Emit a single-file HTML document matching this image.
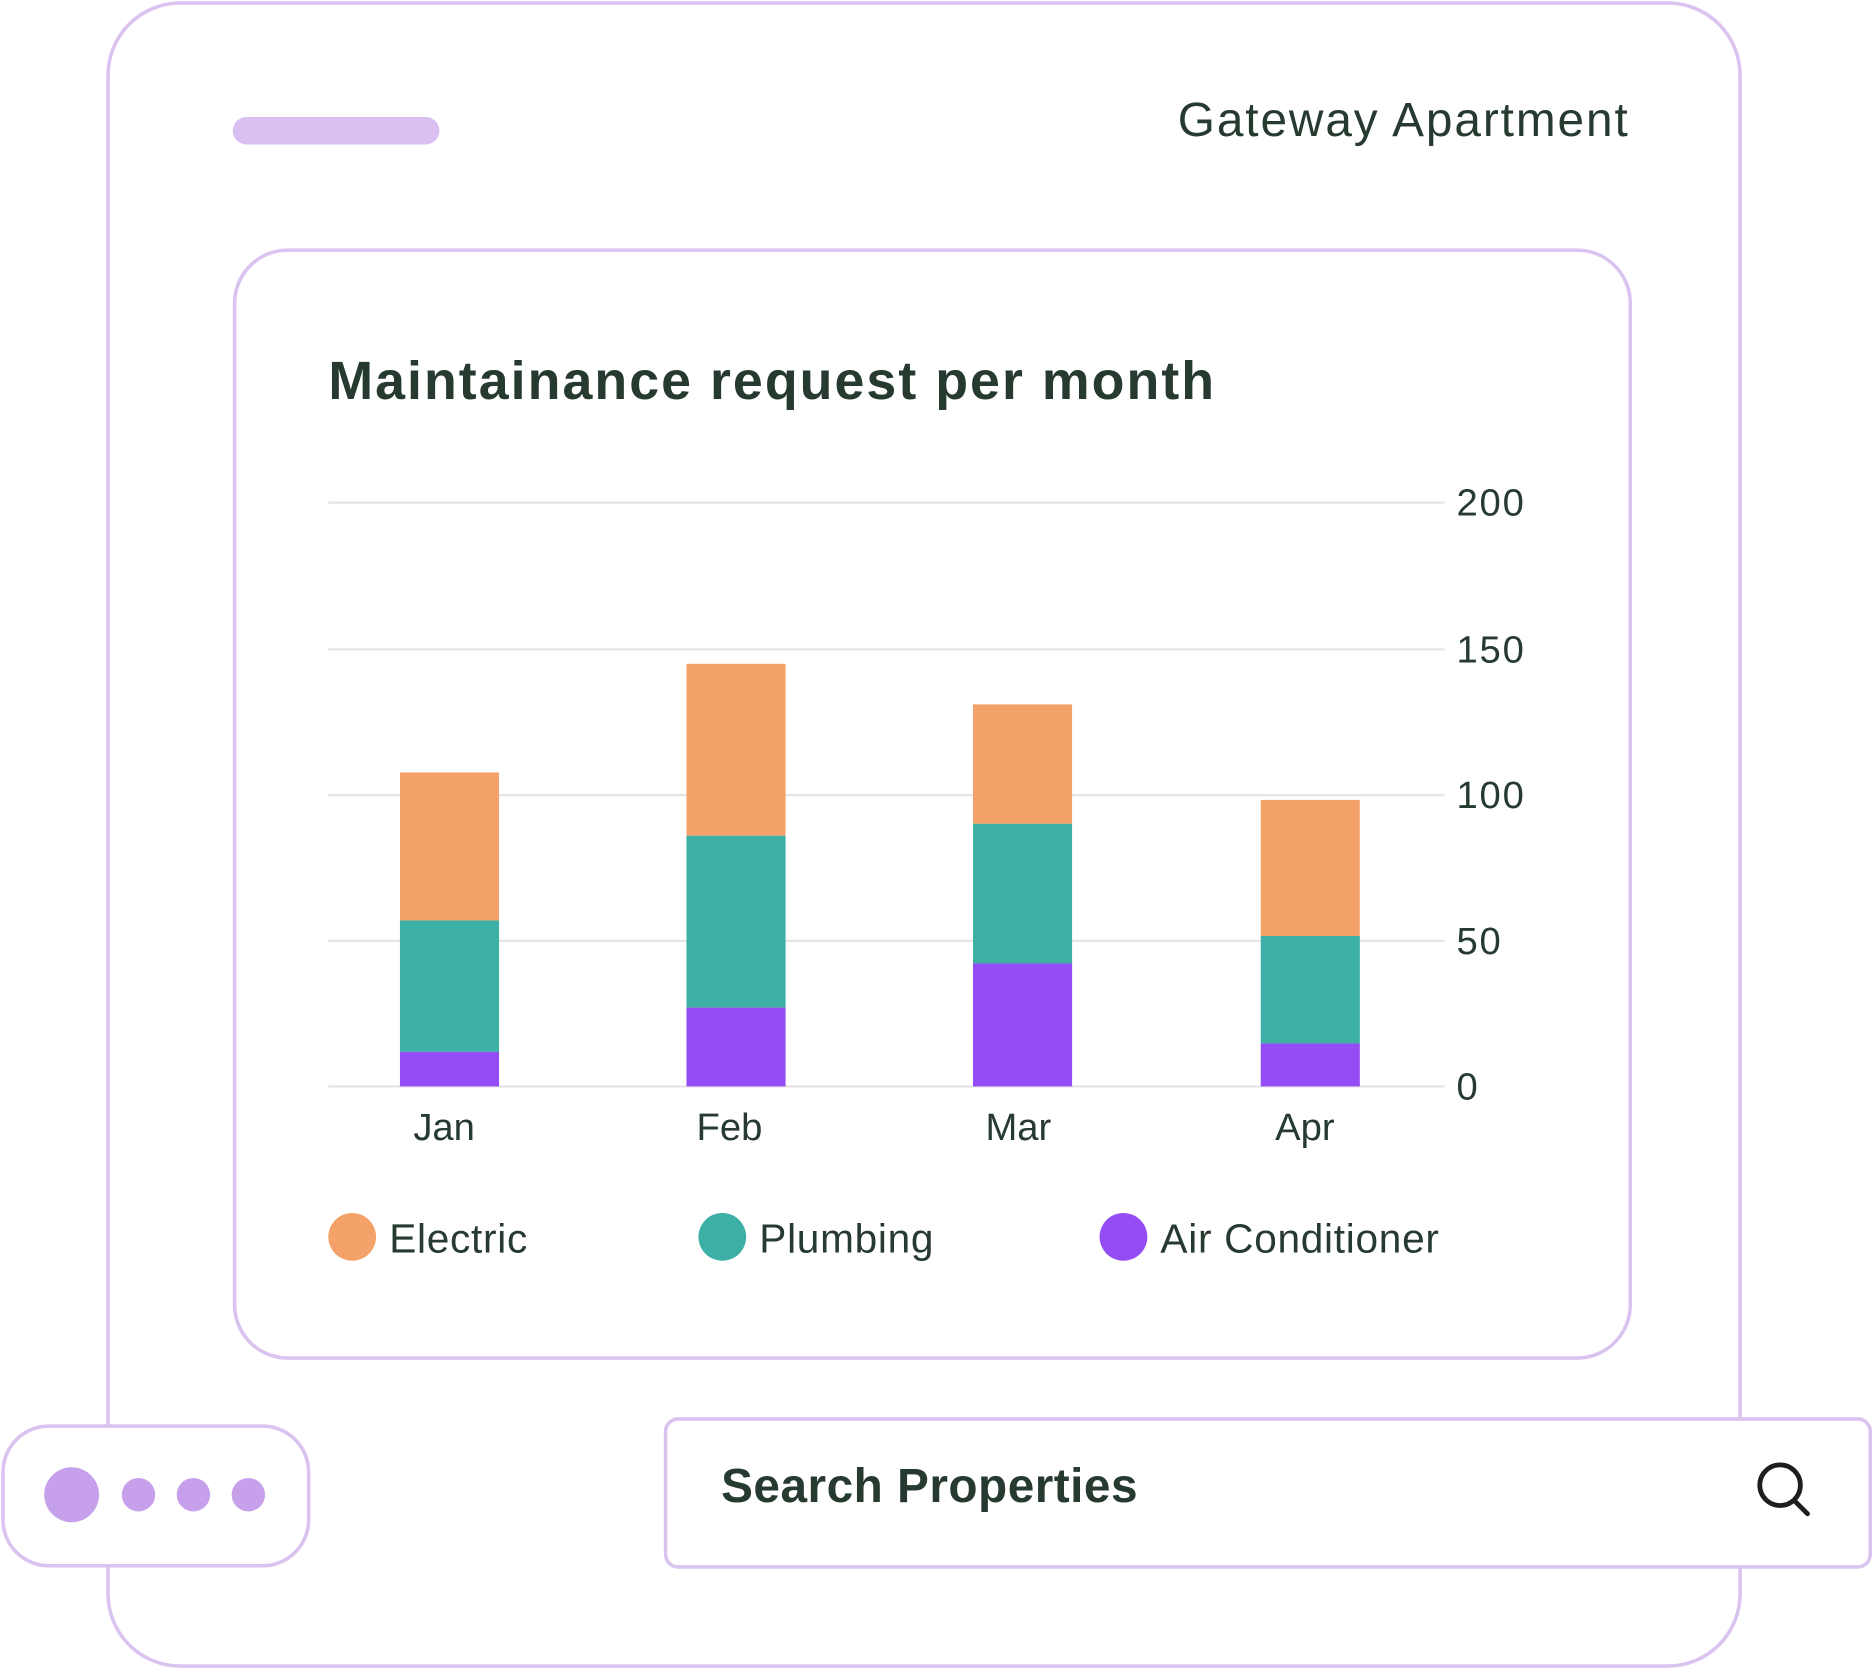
<!DOCTYPE html>
<html><head><meta charset="utf-8"><style>
html,body{margin:0;padding:0;background:#fff;}
body{width:1872px;height:1668px;overflow:hidden;position:relative;}
#w{position:absolute;left:0;top:0;width:1568px;height:1397px;transform:scale(1.19388);transform-origin:0 0;font-family:"Liberation Sans",sans-serif;color:#263a30;}
.a{position:absolute;}
.t{position:absolute;white-space:nowrap;}
</style></head><body><div id="w">
<div class="a" style="left:89px;top:1px;width:1364px;height:1390px;border:3px solid #dac4ef;border-radius:62px;"></div>
<div class="a" style="left:195px;top:98px;width:173px;height:23px;border-radius:12px;background:#d9c0f0;"></div>
<div class="t" style="right:203px;top:79px;font-size:40px;letter-spacing:1.6px;">Gateway Apartment</div>
<div class="a" style="left:195px;top:208px;width:1166px;height:925px;border:3px solid #dac4ef;border-radius:46px;"></div>
<div class="t" style="left:275px;top:293px;font-size:45px;font-weight:bold;letter-spacing:1.7px;">Maintainance request per month</div>
<svg class="a" style="left:0;top:0" width="1568" height="1397">
<g stroke="#e6e6e6" stroke-width="2">
<line x1="275" x2="1210" y1="421" y2="421"/><line x1="275" x2="1210" y1="544" y2="544"/>
<line x1="275" x2="1210" y1="666" y2="666"/><line x1="275" x2="1210" y1="788" y2="788"/>
<line x1="275" x2="1210" y1="910" y2="910"/></g>
<g fill="#f4a269"><rect x="335" y="647" width="83" height="124"/><rect x="575" y="556" width="83" height="144"/><rect x="815" y="590" width="83" height="100"/><rect x="1056" y="670" width="83" height="114"/></g>
<g fill="#3cb0a4"><rect x="335" y="771" width="83" height="110"/><rect x="575" y="700" width="83" height="144"/><rect x="815" y="690" width="83" height="117"/><rect x="1056" y="784" width="83" height="90"/></g>
<g fill="#944cf4"><rect x="335" y="881" width="83" height="29"/><rect x="575" y="844" width="83" height="66"/><rect x="815" y="807" width="83" height="103"/><rect x="1056" y="874" width="83" height="36"/></g>
<g font-family="Liberation Sans, sans-serif" font-size="32" fill="#263a30">
<g letter-spacing="1.5"><text x="1220" y="432">200</text><text x="1220" y="555">150</text><text x="1220" y="677">100</text><text x="1220" y="799">50</text><text x="1220" y="921">0</text></g>
<g text-anchor="middle"><text x="372" y="955">Jan</text><text x="611" y="955">Feb</text><text x="853" y="955">Mar</text><text x="1093" y="955">Apr</text></g>
<g font-size="34" letter-spacing="0.6"><text x="326" y="1049">Electric</text><text x="636" y="1049">Plumbing</text><text x="972" y="1049">Air Conditioner</text></g>
</g>
<circle cx="295" cy="1036" r="20" fill="#f4a269"/><circle cx="605" cy="1036" r="20" fill="#3cb0a4"/><circle cx="941" cy="1036" r="20" fill="#944cf4"/>
</svg>
<div class="a" style="left:1px;top:1193px;width:253px;height:114px;border:3px solid #dac4ef;border-radius:40px;background:#fff;"></div>
<div class="a" style="left:37px;top:1229px;width:46px;height:46px;border-radius:50%;background:#c6a0ea;"></div>
<div class="a" style="left:102px;top:1238px;width:28px;height:28px;border-radius:50%;background:#c6a0ea;"></div>
<div class="a" style="left:148px;top:1238px;width:28px;height:28px;border-radius:50%;background:#c6a0ea;"></div>
<div class="a" style="left:194px;top:1238px;width:28px;height:28px;border-radius:50%;background:#c6a0ea;"></div>
<div class="a" style="left:556px;top:1187px;width:1006px;height:121px;border:3px solid #dac4ef;border-radius:12px;background:#fff;"></div>
<div class="t" style="left:604px;top:1223px;font-size:40px;font-weight:bold;letter-spacing:0.4px;">Search Properties</div>
<svg class="a" style="left:1466px;top:1220px" width="56" height="56"><circle cx="25" cy="24" r="17" fill="none" stroke="#1e1e1e" stroke-width="4"/><line x1="37" y1="37" x2="48" y2="48" stroke="#1e1e1e" stroke-width="4" stroke-linecap="round"/></svg>
</div></body></html>
